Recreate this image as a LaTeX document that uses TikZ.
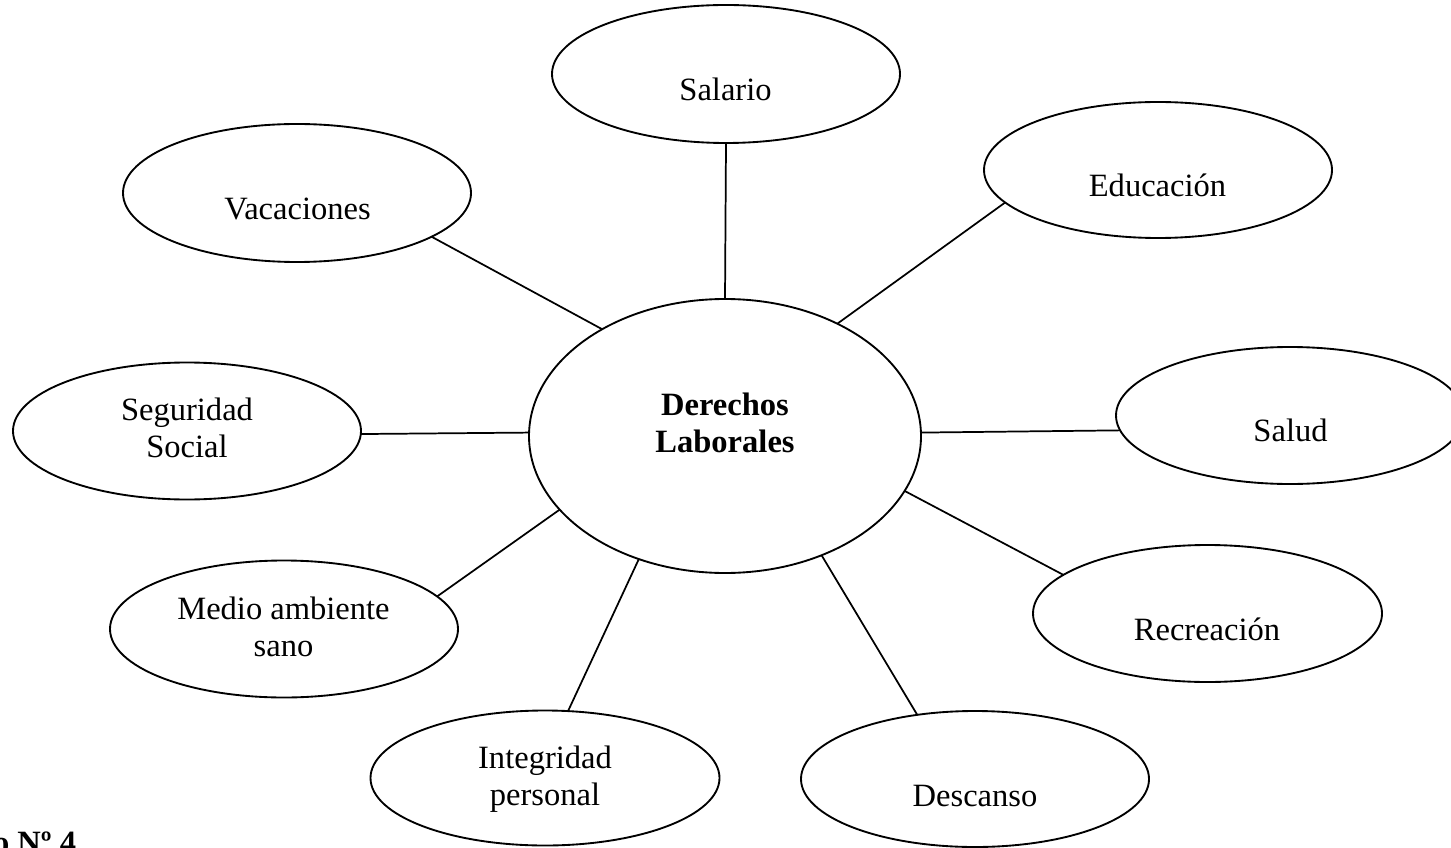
\documentclass[tikz,border=0pt]{standalone}
\usepackage{fontspec}
\setmainfont{Liberation Serif}
\usetikzlibrary{shapes.geometric}
\tikzset{
  oval/.style 2 args={ellipse, draw=black, line width=0.7pt, inner sep=0pt, outer sep=0pt,
    minimum width=#1*0.375pt, minimum height=#2*0.375pt},
  txt/.style={anchor=base, inner sep=0pt, outer sep=0pt, font=\fontsize{12.2}{13.9}\selectfont},
  link/.style={draw=black, line width=0.65pt}
}
\newcommand{\twolines}[2]{\begin{tabular}[t]{@{}c@{}}#1\\#2\end{tabular}}
\begin{document}
\begin{tikzpicture}[x=0.375pt,y=-0.375pt]
\useasboundingbox (0,0) rectangle (1451,848);
\clip (0,0) rectangle (1451,848);
% ellipses
\node[oval={392}{274}] (der) at (725,436) {};
\node[oval={348}{138}] (sal) at (726,74) {};
\node[oval={348}{136}] (edu) at (1158,170) {};
\node[oval={348}{138}] (vac) at (297,193) {};
\node[oval={348}{137}] (seg) at (187,431) {};
\node[oval={348}{137}] (slu) at (1290,415.5) {};
\node[oval={348}{137}] (med) at (284,629) {};
\node[oval={349}{137}] (rec) at (1207.5,613.5) {};
\node[oval={349}{135}] (int) at (545,778) {};
\node[oval={348}{136}] (des) at (975,779) {};
% texts
\node[txt, font=\fontsize{12.2}{13.9}\selectfont\bfseries] (derT) at (725,415) {\twolines{Derechos}{Laborales}};
\node[txt] (salT) at (725.5,100.5) {Salario};
\node[txt] (eduT) at (1157.5,197) {Educación};
\node[txt] (vacT) at (297.5,220) {Vacaciones};
\node[txt] (segT) at (187,420) {\twolines{Seguridad}{Social}};
\node[txt] (sluT) at (1290.5,441.7) {Salud};
\node[txt] (medT) at (283.5,619) {\twolines{Medio ambiente}{sano}};
\node[txt] (recT) at (1207,640) {Recreación};
\node[txt] (intT) at (545,768) {\twolines{Integridad}{personal}};
\node[txt] (desT) at (975,806.5) {Descanso};
\node[txt, anchor=base west, font=\fontsize{12.2}{13.9}\selectfont\bfseries] (fig) at (-7,853) {o Nº 4};
% connectors
\path[link] (der.90) -- (sal.270);
\path[link] (der.45.6) -- (edu.192.8);
\path[link] (der.139) -- (vac.-18);
\path[link] (der.179.4) -- (seg.-1);
\path[link] (der.1.2) -- (slu.185.5);
\path[link] (der.-17.1) -- (rec.165);
\path[link] (der.204) -- (med.12.6);
\path[link] (der.235.5) -- (int.71);
\path[link] (der.-51.6) -- (des.132.2);
\end{tikzpicture}
\end{document}
